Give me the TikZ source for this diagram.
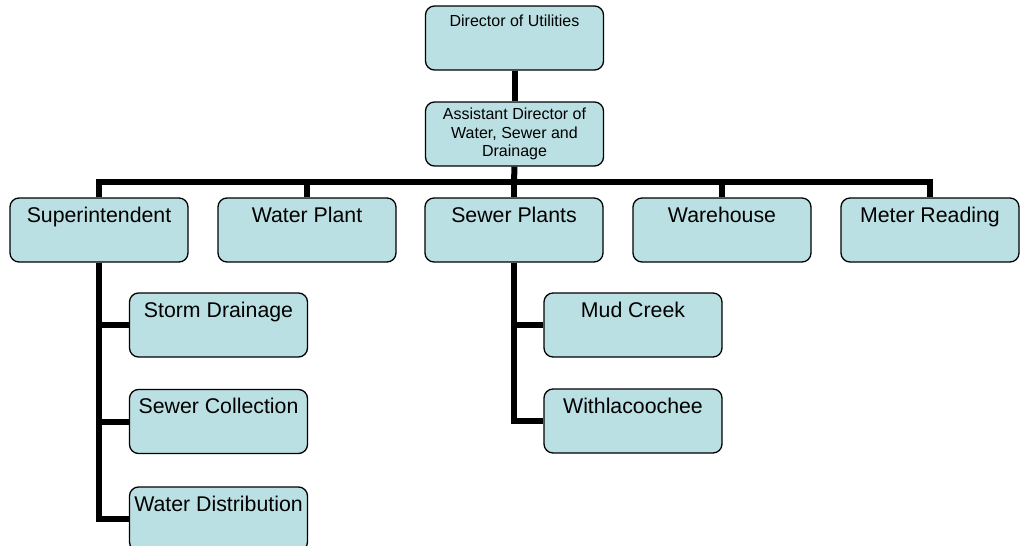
\documentclass[tikz,border=0pt]{standalone}
\usepackage{fontspec}
\setmainfont{Liberation Sans}
\usepackage{tikz}
\usetikzlibrary{calc}
\definecolor{boxfill}{RGB}{187,224,227}

\begin{document}
\begin{tikzpicture}[x=1pt, y=-1pt,
            orgbase/.style={draw=black, line width=1.3pt, rounded corners=9pt, fill=boxfill,
                minimum width=178pt, inner xsep=0pt, inner ysep=0pt},
            unitbox/.style={orgbase, font=\fontsize{21.3}{25}\selectfont, text height=24pt, text depth=40pt},
            headbox/.style={orgbase, font=\fontsize{16}{18.3}\selectfont, text height=20pt, text depth=44pt},
            link/.style={black, line width=6pt}]
            \useasboundingbox (0,0) rectangle (1021,546);

            % top of the chart
            \node[headbox] (director) at (514.5,38) {Director of Utilities};
            \node[orgbase, minimum height=64pt, align=center, font=\fontsize{16}{18.3}\selectfont] (assistant) at (514.5,134)
                {Assistant Director of\\Water, Sewer and\\Drainage};
            \coordinate (Bar) at (514,182);

            % divisions
            \node[unitbox] (super)     at (99,230)  {Superintendent};
            \node[unitbox] (waterplant) at (307,230) {Water Plant};
            \node[unitbox] (sewerplants) at (514,230) {Sewer Plants};
            \node[unitbox] (warehouse) at (722,230) {Warehouse};
            \node[unitbox] (meter)     at (930,230) {Meter Reading};

            % under the superintendent
            \node[unitbox] (storm)    at (218.5,325) {Storm Drainage};
            \node[unitbox] (sewercoll) at (218.5,421.5) {Sewer Collection};
            \node[unitbox] (waterdist) at (218.5,519) {Water Distribution};

            % under the sewer plants
            \node[unitbox] (mudcreek) at (633,325) {Mud Creek};
            \node[unitbox] (withla)   at (633,421) {Withlacoochee};

            \draw[link] (director.south) -- (assistant.north);
            \draw[link] (assistant.south) -- (Bar);
            \foreach \unit in {super, waterplant, sewerplants, warehouse, meter}
                \draw[link] (Bar) -| (\unit.north);

            \foreach \unit in {storm, sewercoll, waterdist}
                \draw[link] (super.south) |- (\unit.west);
            \foreach \unit in {mudcreek, withla}
                \draw[link] (sewerplants.south) |- (\unit.west);
        \end{tikzpicture}
\end{document}
